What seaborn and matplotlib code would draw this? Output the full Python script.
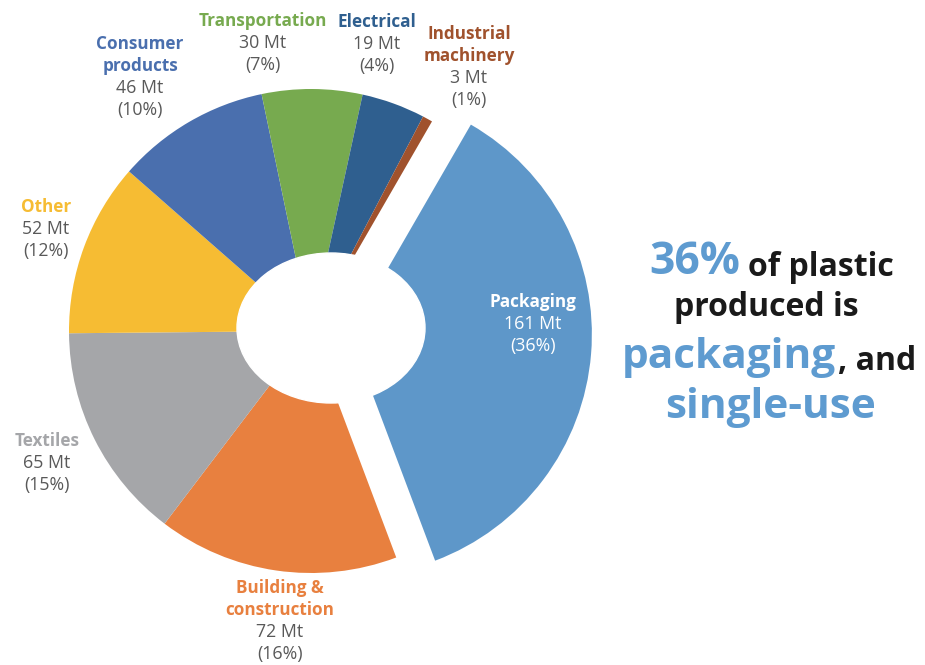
import seaborn as sns
import matplotlib.pyplot as plt
from matplotlib.patches import Ellipse

sns.set_style("white")
plt.rcParams['font.family'] = ['Open Sans', 'DejaVu Sans']

# data (Mt of plastic produced, by sector)
sectors = ["Packaging", "Building &\nconstruction", "Textiles", "Other",
           "Consumer\nproducts", "Transportation", "Electrical", "Industrial\nmachinery"]
tonnes = [161, 72, 65, 52, 46, 30, 19, 3]
colors = ["#5E97C9", "#E8803F", "#A5A6A9", "#F6BC33",
          "#4A6FAE", "#77AA4F", "#2F5F8F", "#A0522D"]
name_colors = ["#FFFFFF", "#E8803F", "#A5A6A9", "#F6BC33",
               "#4A6FAE", "#77AA4F", "#2F5F8F", "#A0522D"]

total = sum(tonnes)
shares = [round(100 * t / total) for t in tonnes]

# label anchors in pixels (x centre, y of first line)
label_pos = [(533, 302), (280, 588), (47, 441), (46, 207),
             (140, 44), (263, 21), (377, 22), (469, 34)]

W, H = 925, 665
R = 242
fig = plt.figure(figsize=(W / 100, H / 100), dpi=100)
ax = fig.add_axes([0, 0, 1, 1])

palette = sns.color_palette(colors)
# explode is in data units here (pixels), since radius is not 1
ax.pie(tonnes, colors=palette, startangle=60, counterclock=False,
       center=(311, H - 331), radius=R,
       explode=[39] + [0] * (len(tonnes) - 1),
       wedgeprops=dict(linewidth=0))
ax.add_patch(Ellipse((331, H - 328), 188, 150, color="white", zorder=5))

ax.set_xlim(0, W)
ax.set_ylim(0, H)
ax.set_aspect("equal")
ax.axis("off")

step = 22
for name, t, s, col, (x, y) in zip(sectors, tonnes, shares, name_colors, label_pos):
    lines = name.split("\n")
    vcol = "white" if name == "Packaging" else "#595959"
    for i, ln in enumerate(lines):
        ax.text(x, H - (y + i * step), ln, ha="center", va="center",
                fontsize=12.3, fontweight="bold", color=col, zorder=6)
    n = len(lines)
    ax.text(x, H - (y + n * step), f"{t} Mt", ha="center", va="center",
            fontsize=12.8, color=vcol, zorder=6)
    ax.text(x, H - (y + (n + 1) * step), f"({s}%)", ha="center", va="center",
            fontsize=12.8, color=vcol, zorder=6)

# headline on the right
blue = "#5E9BD0"
dark = "#1A1A1A"
ax.text(740, H - 263, f"{shares[0]}%", ha="right", va="center",
        fontsize=32, fontweight="bold", color=blue)
ax.text(748, H - 267, "of plastic", ha="left", va="center",
        fontsize=23, fontweight="bold", color=dark)
ax.text(766, H - 308, "produced is", ha="center", va="center",
        fontsize=23, fontweight="bold", color=dark)
ax.text(836, H - 358, "packaging", ha="right", va="center",
        fontsize=30.5, fontweight="bold", color=blue)
ax.text(838, H - 362, ", and", ha="left", va="center",
        fontsize=23, fontweight="bold", color=dark)
ax.text(771, H - 408, "single-use", ha="center", va="center",
        fontsize=30.5, fontweight="bold", color=blue)

fig.savefig("out.png", dpi=100)
